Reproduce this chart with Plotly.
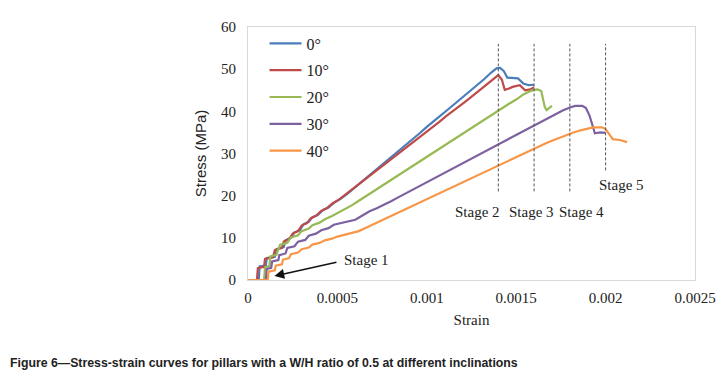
import plotly.graph_objects as go

# ---------------- data ----------------
series_names = ["0°", "10°", "20°", "30°", "40°"]
series_colors = ["#4A7EBB", "#BE4B48", "#98B954", "#7D60A0", "#F79646"]

strain_0 = [0, 0.00006, 0.000065, 0.0001, 0.000105, 0.00015, 0.00016, 0.0002, 0.00021, 0.00024,
            0.00026, 0.00029, 0.00031, 0.00034, 0.00036, 0.00039, 0.00042, 0.00045, 0.00048, 0.00052,
            0.00056, 0.0006, 0.00064, 0.00068, 0.00072, 0.00076, 0.0008, 0.00084, 0.00088, 0.00092,
            0.00096, 0.001, 0.00104, 0.00108, 0.00112, 0.00116, 0.0012, 0.00124, 0.00128, 0.00132,
            0.00136, 0.00139, 0.00141, 0.00143, 0.00145, 0.00151, 0.00154, 0.00157, 0.0016]
stress_0 = [0, 0, 3.2, 3.5, 5.2, 5.5, 7.3, 7.8, 9.4, 10.0,
            11.3, 11.8, 13.2, 13.8, 14.9, 15.4, 16.6, 17.2, 18.3, 19.3,
            20.6, 22.0, 23.5, 24.8, 26.3, 27.6, 29.1, 30.4, 32.0, 33.4,
            34.8, 36.3, 37.6, 39.1, 40.5, 41.9, 43.4, 44.7, 46.3, 47.6,
            49.2, 50.2, 50.3, 49.6, 48.0, 47.8, 46.6, 46.2, 46.3]

strain_10 = [0, 0.00005, 0.000055, 0.00009, 0.000095, 0.00014, 0.00015, 0.00019, 0.0002, 0.00023,
             0.00025, 0.00028, 0.0003, 0.00033, 0.00035, 0.00038, 0.00041, 0.00044, 0.00047, 0.00051,
             0.00055, 0.00059, 0.00063, 0.00067, 0.00071, 0.00075, 0.00079, 0.00083, 0.00087, 0.00091,
             0.00095, 0.00099, 0.00103, 0.00107, 0.00111, 0.00115, 0.00119, 0.00123, 0.00127, 0.00131,
             0.00135, 0.00139, 0.0014, 0.00142, 0.001436, 0.00146, 0.00148, 0.00152, 0.00155, 0.00158, 0.0016]
stress_10 = [0, 0, 2.8, 3.1, 5.0, 5.4, 7.1, 7.6, 9.1, 9.7,
             11.0, 11.6, 12.9, 13.5, 14.6, 15.2, 16.4, 17.0, 18.1, 19.1,
             20.4, 21.7, 23.1, 24.3, 25.7, 27.0, 28.3, 29.6, 31.0, 32.2,
             33.6, 34.9, 36.2, 37.5, 38.9, 40.1, 41.5, 42.8, 44.2, 45.5,
             46.9, 48.3, 48.6, 47.5, 45.1, 45.4, 45.8, 46.2, 45.0, 45.2, 45.7]

strain_20 = [0, 0.00009, 0.000095, 0.00012, 0.000125, 0.00016, 0.000165, 0.00018, 0.00022, 0.00024,
             0.00028, 0.0003, 0.00034, 0.00036, 0.0004, 0.00043, 0.00047, 0.0005, 0.00054, 0.00058,
             0.00062, 0.00066, 0.0007, 0.00074, 0.00078, 0.00082, 0.00086, 0.0009, 0.00094, 0.00098,
             0.00102, 0.00106, 0.0011, 0.00114, 0.00118, 0.00122, 0.00126, 0.0013, 0.00134, 0.00138,
             0.00142, 0.00146, 0.0015, 0.00154, 0.00158, 0.0016, 0.00162, 0.00164, 0.00166, 0.00167, 0.0017]
stress_20 = [0, 0, 3.0, 3.3, 5.6, 6.0, 6.8, 8.4, 8.8, 10.1,
             10.6, 11.6, 12.2, 13.0, 13.6, 14.4, 15.2, 15.9, 16.7, 17.7,
             18.8, 19.9, 21.0, 22.1, 23.2, 24.3, 25.4, 26.5, 27.6, 28.7,
             29.8, 30.9, 32.0, 33.1, 34.2, 35.3, 36.4, 37.5, 38.5, 39.6,
             40.7, 41.8, 42.8, 44.0, 44.8, 45.1, 45.2, 44.8, 41.0, 40.3, 41.3]

strain_30 = [0, 0.0001, 0.000105, 0.00013, 0.000135, 0.00017, 0.000175, 0.00021, 0.00022, 0.00026,
             0.00028, 0.00032, 0.00034, 0.00038, 0.00041, 0.00045, 0.00048, 0.00052, 0.00056, 0.0006,
             0.00064, 0.00068, 0.00072, 0.00076, 0.0008, 0.00084, 0.00088, 0.00092, 0.00096, 0.001,
             0.00104, 0.00108, 0.00112, 0.00116, 0.0012, 0.00124, 0.00128, 0.00132, 0.00136, 0.0014,
             0.00144, 0.00148, 0.00152, 0.00156, 0.0016, 0.00164, 0.00168, 0.00172, 0.00176, 0.0018,
             0.00183, 0.00187, 0.00189, 0.00191, 0.00193, 0.00194, 0.00197, 0.002]
stress_30 = [0, 0, 2.6, 2.9, 4.4, 4.7, 5.9, 6.3, 7.6, 8.0,
             9.1, 9.5, 10.5, 11.0, 11.8, 12.3, 13.1, 13.5, 14.0, 14.3,
             15.3, 16.3, 17.0, 17.8, 18.7, 19.6, 20.5, 21.4, 22.3, 23.2,
             24.1, 25.0, 25.9, 26.8, 27.7, 28.6, 29.5, 30.4, 31.4, 32.3,
             33.2, 34.1, 34.9, 35.8, 36.6, 37.5, 38.4, 39.3, 40.2, 40.9,
             41.3, 41.3, 40.8, 39.0, 36.5, 34.8, 35.0, 34.9]

strain_40 = [0, 0.00011, 0.000115, 0.00015, 0.000155, 0.00019, 0.000195, 0.00023, 0.00024, 0.00028,
             0.0003, 0.00034, 0.00036, 0.0004, 0.00043, 0.00047, 0.0005, 0.00054, 0.00058, 0.00062,
             0.00066, 0.0007, 0.00074, 0.00078, 0.00082, 0.00086, 0.0009, 0.00094, 0.00098, 0.00102,
             0.00106, 0.0011, 0.00114, 0.00118, 0.00122, 0.00126, 0.0013, 0.00134, 0.00138, 0.00142,
             0.00146, 0.0015, 0.00154, 0.00158, 0.00162, 0.00166, 0.0017, 0.00174, 0.00178, 0.00182,
             0.00186, 0.0019, 0.00193, 0.00198, 0.002, 0.00202, 0.00204, 0.00208, 0.0021, 0.00212]
stress_40 = [0, 0, 2.0, 2.3, 3.4, 3.7, 4.8, 5.2, 6.1, 6.5,
             7.3, 7.7, 8.4, 8.8, 9.4, 9.8, 10.3, 10.7, 11.1, 11.6,
             12.4, 13.2, 14.0, 14.8, 15.6, 16.4, 17.2, 18.0, 18.8, 19.6,
             20.4, 21.2, 22.0, 22.8, 23.6, 24.4, 25.2, 26.0, 26.8, 27.6,
             28.4, 29.2, 30.0, 30.8, 31.6, 32.3, 33.0, 33.7, 34.4, 35.0,
             35.5, 36.0, 36.2, 36.2, 35.8, 34.6, 33.4, 33.2, 32.9, 32.7]

x_tick_vals = [0, 0.0005, 0.001, 0.0015, 0.002, 0.0025]
x_tick_text = ["0", "0.0005", "0.001", "0.0015", "0.002", "0.0025"]
y_tick_vals = [0, 10, 20, 30, 40, 50, 60]

stage_line_x = [0.0014, 0.0016, 0.0018, 0.002]
stage_line_ybottom = [21.0, 21.0, 21.0, 26.0]
stage_line_ytop = 56.0
stage_labels = ["Stage 1", "Stage 2", "Stage 3", "Stage 4", "Stage 5"]
stage_label_x = [0.00066, 0.001286, 0.001586, 0.001863, 0.00209]
stage_label_y = [4.7, 16.2, 16.2, 16.2, 22.5]
arrow_head = (0.000148, 0.95)
arrow_tail = (0.000503, 4.3)

caption = "Figure 6\u2014Stress-strain curves for pillars with a W/H ratio of 0.5 at different inclinations"

# ---------------- figure ----------------
serif = "Liberation Serif, Times New Roman, serif"
sans = "Liberation Sans, Arial, sans-serif"
fig = go.Figure()
all_x = [strain_0, strain_10, strain_20, strain_30, strain_40]
all_y = [stress_0, stress_10, stress_20, stress_30, stress_40]
for name, col, xs, ys in zip(series_names, series_colors, all_x, all_y):
    fig.add_trace(go.Scatter(x=xs, y=ys, mode="lines", name=name, legendgroup=name,
                             line=dict(color=col, width=2.2)))

for xv, yb in zip(stage_line_x, stage_line_ybottom):
    fig.add_shape(type="line", xref="x", yref="y", x0=xv, x1=xv, y0=yb, y1=stage_line_ytop,
                  line=dict(color="#555555", width=1, dash="3px,2px"))

for txt, xv, yv in zip(stage_labels, stage_label_x, stage_label_y):
    fig.add_annotation(x=xv, y=yv, xref="x", yref="y", text=txt, showarrow=False,
                       font=dict(family=serif, size=15, color="#222222"))

fig.add_annotation(x=arrow_head[0], y=arrow_head[1], xref="x", yref="y",
                   ax=arrow_tail[0], ay=arrow_tail[1], axref="x", ayref="y",
                   text="", showarrow=True, arrowhead=2, arrowsize=1.3, arrowwidth=1.5,
                   arrowcolor="#111111")

fig.add_annotation(x=-0.536, y=-0.328, xref="paper", yref="paper", text="<b>" + caption + "</b>",
                   showarrow=False, xanchor="left", yanchor="middle",
                   font=dict(family="Liberation Sans Narrow, Arial Narrow, Liberation Sans, Arial", size=12.3,
                             color="#222222"))

fig.update_layout(
    width=728, height=390,
    margin=dict(l=248, r=22, t=27, b=110),
    paper_bgcolor="white", plot_bgcolor="white",
    showlegend=True,
    legend=dict(x=0.037, y=1.002, xanchor="left", yanchor="top", bgcolor="rgba(0,0,0,0)",
                font=dict(family=serif, size=16, color="#222222"), tracegroupgap=3,
                itemwidth=32),
    font=dict(family=serif, size=15, color="#222222"),
)
fig.update_xaxes(range=[0, 0.0025], tickvals=x_tick_vals, ticktext=x_tick_text,
                 showgrid=False, zeroline=False, showline=True, mirror=True, linecolor="#d9d9d9",
                 linewidth=1, ticks="", ticklabelstandoff=4,
                 tickfont=dict(family=serif, size=15, color="#222222"),
                 title=dict(text="Strain", font=dict(family=serif, size=15, color="#222222"), standoff=9))
fig.update_yaxes(range=[0, 60], tickvals=y_tick_vals,
                 showgrid=False, zeroline=False, showline=True, mirror=True, linecolor="#d9d9d9",
                 linewidth=1, ticks="", ticklabelstandoff=8,
                 tickfont=dict(family=serif, size=15, color="#222222"),
                 title=dict(text="Stress (MPa)", font=dict(family=sans, size=15, color="#222222"), standoff=10))

# remove the default 8px page margin so the 728x390 figure fills the window exactly
fig.write_html("out.html", config={"displayModeBar": False},
               post_script="document.body.style.margin='0';")
